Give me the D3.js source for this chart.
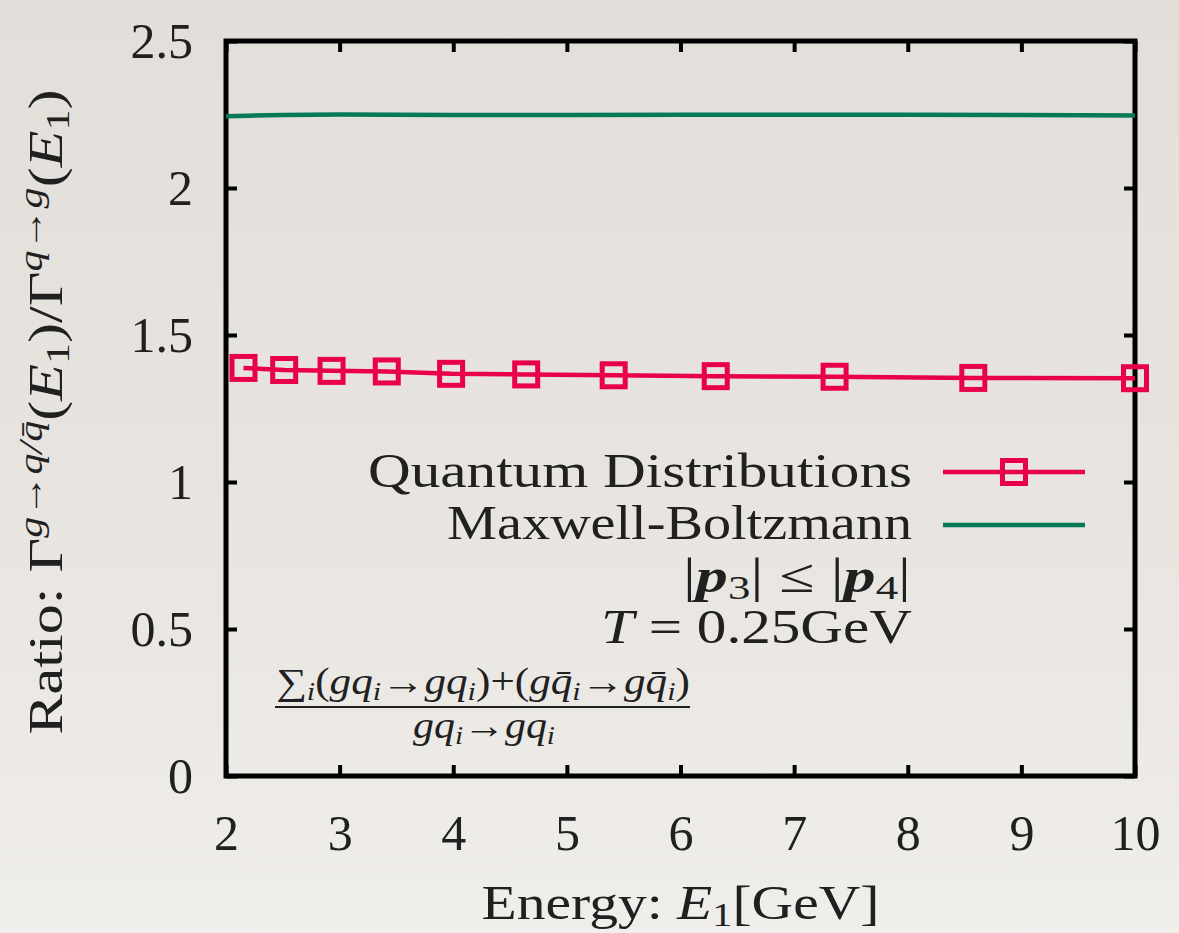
<!DOCTYPE html>
<html>
<head>
<meta charset="utf-8">
<script src="https://cdn.jsdelivr.net/npm/d3@7"></script>
<style>
  html, body { margin: 0; padding: 0; }
  svg { display: block; }
  text { font-family: "Liberation Serif", "Times New Roman", serif; fill: #202020; }
</style>
</head>
<body>
<svg id="chart" width="1179" height="933"></svg>
<script>
// Axis ticks
const energyTicks = [2, 3, 4, 5, 6, 7, 8, 9, 10];
const ratioTicks = [0, 0.5, 1, 1.5, 2, 2.5];

// Quantum distributions: marked points
const quantumEnergy = [2.154, 2.512, 2.929, 3.415, 3.981, 4.642, 5.412, 6.310, 7.356, 8.577, 10];
const quantumRatio  = [1.388, 1.381, 1.378, 1.376, 1.368, 1.366, 1.363, 1.360, 1.358, 1.354, 1.353];

// Maxwell-Boltzmann curve
const mbEnergy = [2, 2.2, 2.5, 3, 4, 5, 6, 7, 8, 9, 10];
const mbRatio  = [2.244, 2.246, 2.248, 2.250, 2.248, 2.248, 2.249, 2.249, 2.249, 2.248, 2.247];

const seriesNames = ["Quantum Distributions", "Maxwell-Boltzmann"];
const RED = "#e9004b";
const GREEN = "#057a56";

const W = 1179, H = 933;
const margin = { left: 226, right: W - 1135, top: 41, bottom: H - 776 };

const svg = d3.select("#chart");

// paper-like background
const defs = svg.append("defs");
const bg = defs.append("linearGradient").attr("id", "paper").attr("x1", 0).attr("y1", 0).attr("x2", 0).attr("y2", 1);
bg.append("stop").attr("offset", "0%").attr("stop-color", "#e2dfda");
bg.append("stop").attr("offset", "55%").attr("stop-color", "#e8e5e1");
bg.append("stop").attr("offset", "100%").attr("stop-color", "#f0eeea");
svg.append("rect").attr("width", W).attr("height", H).attr("fill", "url(#paper)");

const x = d3.scaleLinear().domain([2, 10]).range([margin.left, W - margin.right]);
const y = d3.scaleLinear().domain([0, 2.5]).range([H - margin.bottom, margin.top]);

const TICK = 11;

// axes with inward ticks on all four sides
function styleAxis(g) {
  g.select(".domain").remove();
  g.selectAll(".tick line").attr("stroke", "#000").attr("stroke-width", 4);
  g.selectAll(".tick text").attr("font-size", 50).attr("fill", "#202020")
    .attr("font-family", "'Liberation Serif', serif");
}

svg.append("g").attr("transform", `translate(0,${y(0)})`)
  .call(d3.axisBottom(x).tickValues(energyTicks).tickSizeInner(-TICK).tickSizeOuter(0).tickPadding(38).tickFormat(d3.format("d")))
  .call(styleAxis);
svg.append("g").attr("transform", `translate(0,${y(2.5)})`)
  .call(d3.axisTop(x).tickValues(energyTicks).tickSizeInner(-TICK).tickSizeOuter(0).tickFormat(""))
  .call(styleAxis);
svg.append("g").attr("transform", `translate(${x(2)},0)`)
  .call(d3.axisLeft(y).tickValues(ratioTicks).tickSizeInner(-TICK).tickSizeOuter(0).tickPadding(33).tickFormat(d => d3.format("")(d)))
  .call(styleAxis);
svg.append("g").attr("transform", `translate(${x(10)},0)`)
  .call(d3.axisRight(y).tickValues(ratioTicks).tickSizeInner(-TICK).tickSizeOuter(0).tickFormat(""))
  .call(styleAxis);

// plot frame
svg.append("rect")
  .attr("x", x(2)).attr("y", y(2.5))
  .attr("width", x(10) - x(2)).attr("height", y(0) - y(2.5))
  .attr("fill", "none").attr("stroke", "#000").attr("stroke-width", 5);

// series
const line = d3.line().x(d => x(d[0])).y(d => y(d[1]));
const mbData = mbEnergy.map((e, i) => [e, mbRatio[i]]);
const qData = quantumEnergy.map((e, i) => [e, quantumRatio[i]]);

svg.append("path").datum(mbData).attr("d", line)
  .attr("fill", "none").attr("stroke", GREEN).attr("stroke-width", 4.5);

svg.append("path").datum(qData).attr("d", line)
  .attr("fill", "none").attr("stroke", RED).attr("stroke-width", 4.5);

const BOX = 23;
svg.append("g").selectAll("rect").data(qData).join("rect")
  .attr("x", d => x(d[0]) - BOX / 2).attr("y", d => y(d[1]) - BOX / 2)
  .attr("width", BOX).attr("height", BOX)
  .attr("fill", "none").attr("stroke", RED).attr("stroke-width", 5);

// rich text helper: parts with optional sup/sub/italic/bold
function rich(parent, px, py, parts, opts) {
  const size = opts.size;
  const t = parent.append("text").attr("x", px).attr("y", py)
    .attr("font-size", size).attr("text-anchor", opts.anchor || "start");
  if (opts.transform) t.attr("transform", opts.transform);
  let shift = 0;
  parts.forEach(p => {
    const target = p.sup ? -size * 0.42 : p.sub ? size * 0.15 : 0;
    const ts = t.append("tspan").text(p.t).attr("dy", target - shift);
    shift = target;
    if (p.sup || p.sub) ts.attr("font-size", size * 0.7);
    if (p.it) ts.attr("font-style", "italic");
    if (p.bold) ts.attr("font-weight", "bold");
  });
  if (opts.width) t.attr("textLength", opts.width).attr("lengthAdjust", "spacingAndGlyphs");
  return t;
}

// legend
const legendRight = 912;
rich(svg, legendRight, 487, [{ t: seriesNames[0] }], { size: 48, anchor: "end", width: 544 });
rich(svg, legendRight, 539, [{ t: seriesNames[1] }], { size: 48, anchor: "end", width: 465 });

const legX0 = 943, legX1 = 1085;
svg.append("line").attr("x1", legX0).attr("x2", legX1).attr("y1", 472).attr("y2", 472)
  .attr("stroke", RED).attr("stroke-width", 4.5);
svg.append("rect").attr("x", (legX0 + legX1) / 2 - BOX / 2).attr("y", 472 - BOX / 2)
  .attr("width", BOX).attr("height", BOX).attr("fill", "none").attr("stroke", RED).attr("stroke-width", 5);
svg.append("line").attr("x1", legX0).attr("x2", legX1).attr("y1", 525).attr("y2", 525)
  .attr("stroke", GREEN).attr("stroke-width", 4.5);

rich(svg, 911, 592, [
  { t: "|" }, { t: "p", it: true, bold: true }, { t: "3", sub: true }, { t: "| ≤ |" },
  { t: "p", it: true, bold: true }, { t: "4", sub: true }, { t: "|" }
], { size: 48, anchor: "end", width: 228 });

rich(svg, 912, 643, [{ t: "T", it: true }, { t: " = 0.25GeV" }], { size: 48, anchor: "end", width: 311 });

// process fraction
rich(svg, 276, 694, [
  { t: "∑" }, { t: "i", sub: true, it: true }, { t: "(" },
  { t: "gq", it: true }, { t: "i", sub: true, it: true }, { t: "→" },
  { t: "gq", it: true }, { t: "i", sub: true, it: true }, { t: ")+(" },
  { t: "gq\u0304", it: true }, { t: "i", sub: true, it: true }, { t: "→" },
  { t: "gq\u0304", it: true }, { t: "i", sub: true, it: true }, { t: ")" }
], { size: 37, width: 414 });
svg.append("line").attr("x1", 275).attr("x2", 690).attr("y1", 707).attr("y2", 707)
  .attr("stroke", "#202020").attr("stroke-width", 2.2);
rich(svg, 484, 738, [
  { t: "gq", it: true }, { t: "i", sub: true, it: true }, { t: "→" },
  { t: "gq", it: true }, { t: "i", sub: true, it: true }
], { size: 37, anchor: "middle", width: 142 });

// axis titles
rich(svg, (x(2) + x(10)) / 2, 919, [
  { t: "Energy:  " }, { t: "E", it: true }, { t: "1", sub: true }, { t: "[GeV]" }
], { size: 48, anchor: "middle", width: 398 });

rich(svg, 0, 0, [
  { t: "Ratio:  Γ" }, { t: "g→q/q\u0304", sup: true, it: true }, { t: "(" }, { t: "E", it: true },
  { t: "1", sub: true }, { t: ")/Γ" }, { t: "q→g", sup: true, it: true }, { t: "(" },
  { t: "E", it: true }, { t: "1", sub: true }, { t: ")" }
], { size: 48, anchor: "middle", width: 645, transform: "translate(62,412) rotate(-90)" });
</script>
</body>
</html>
